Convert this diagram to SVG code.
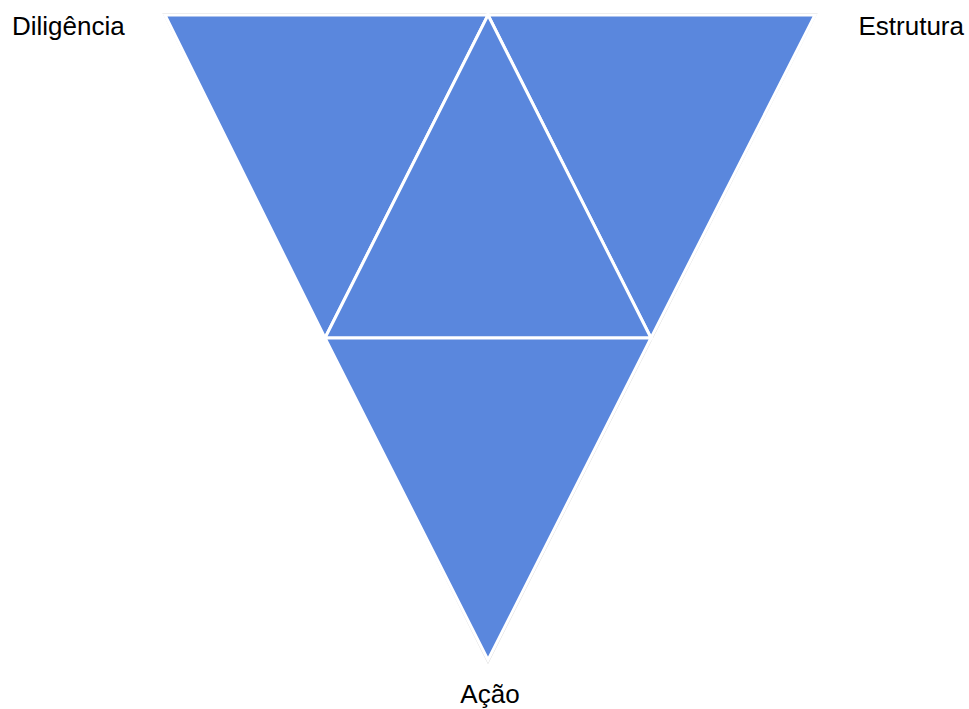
<svg xmlns="http://www.w3.org/2000/svg" width="969" height="709" viewBox="0 0 969 709">
<style>
.tri{fill:#5a87dd;stroke:#ffffff;stroke-width:3;stroke-linejoin:miter}
.lbl{font-family:"Liberation Sans",Arial,sans-serif;font-size:26px;fill:#000}
</style>
<rect width="969" height="709" fill="#fff"/>
<polygon points="164,14 816,14 488,662" fill="none" stroke="#dddddd" stroke-width="2"/>
<g id="top-left"><polygon class="tri" points="165,15 488,15 325,338"/></g>
<g id="top-right"><polygon class="tri" points="488,15 815,15 651,338"/></g>
<g id="center"><polygon class="tri" points="488,15 651,338 325,338"/></g>
<g id="bottom"><polygon class="tri" points="325,338 651,338 488,660"/></g>
<g id="labels">
<text class="lbl" x="12" y="35">Diligência</text>
<text class="lbl" x="964" y="35" text-anchor="end">Estrutura</text>
<text class="lbl" x="490" y="703" text-anchor="middle">Ação</text>
</g>
</svg>
